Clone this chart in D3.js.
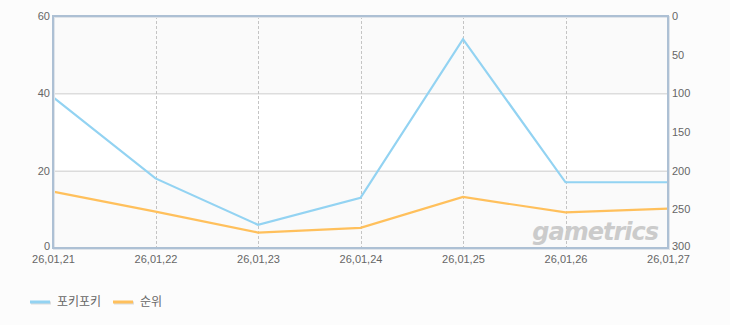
<!DOCTYPE html>
<html><head><meta charset="utf-8">
<script src="https://cdn.jsdelivr.net/npm/d3@7"></script>
<style>
html,body{margin:0;padding:0;background:#fcfcfc;}
svg{display:block;}
</style></head>
<body>
<svg id="c" width="730" height="325"></svg>
<script>
const categories = ["26,01,21","26,01,22","26,01,23","26,01,24","26,01,25","26,01,26","26,01,27"];
const seriesNames = ["포키포키","순위"];
const pokiValues = [39, 18, 6, 13, 54, 17, 17];
const rankValues = [227, 253, 280, 274, 234, 254, 249];
const leftTicks = [0, 20, 40, 60];
const rightTicks = [0, 50, 100, 150, 200, 250, 300];
const colors = ["#93d3f2", "#ffc05c"];

const svg = d3.select("#c");
const L = 53, R = 668, T = 16, B = 248;
const x = d3.scalePoint().domain(categories).range([L, R]);
const yL = d3.scaleLinear().domain([0, 60]).range([B, T]);
const yR = d3.scaleLinear().domain([0, 300]).range([T, B]);
const font = "'Liberation Sans', Arial, sans-serif";

// background bands
svg.append("rect").attr("x", L).attr("y", T).attr("width", R - L).attr("height", B - T).attr("fill", "#fafafa");
svg.append("rect").attr("x", L).attr("y", yL(40)).attr("width", R - L).attr("height", yL(20) - yL(40)).attr("fill", "#ffffff");

// horizontal grid
svg.append("g").selectAll("line").data([20, 40]).join("line")
  .attr("x1", L).attr("x2", R).attr("y1", d => yL(d) + 0.5).attr("y2", d => yL(d) + 0.5)
  .attr("stroke", "#cccccc").attr("stroke-width", 1);
// vertical dashed grid
svg.append("g").selectAll("line").data(categories.slice(1, -1)).join("line")
  .attr("x1", d => Math.round(x(d)) + 0.5).attr("x2", d => Math.round(x(d)) + 0.5)
  .attr("y1", T).attr("y2", B)
  .attr("stroke", "#c4c4c4").attr("stroke-dasharray", "3,2").attr("stroke-width", 1);

// watermark
svg.append("text").attr("x", 658).attr("y", 240).attr("text-anchor", "end")
  .attr("font-family", "'DejaVu Sans', sans-serif").attr("font-size", 24).attr("font-weight", "bold")
  .attr("font-style", "italic").attr("fill", "#cbcbcb").attr("letter-spacing", -1).text("gametrics");

// lines
const linePoki = d3.line().x((d, i) => x(categories[i])).y(d => yL(d));
const lineRank = d3.line().x((d, i) => x(categories[i])).y(d => yR(d));
svg.append("path").datum(rankValues).attr("d", lineRank).attr("fill", "none")
  .attr("stroke", colors[1]).attr("stroke-width", 2.2);
svg.append("path").datum(pokiValues).attr("d", linePoki).attr("fill", "none")
  .attr("stroke", colors[0]).attr("stroke-width", 2.2);

// frame shadow + border
svg.append("rect").attr("x", L + 1).attr("y", T + 1).attr("width", R - L).attr("height", B - T)
  .attr("fill", "none").attr("stroke", "#dfe4ea").attr("stroke-width", 2);
svg.append("rect").attr("x", L).attr("y", T).attr("width", R - L).attr("height", B - T)
  .attr("fill", "none").attr("stroke", "#adc0d4").attr("stroke-width", 2);

// axes
const axL = d3.axisLeft(yL).tickValues(leftTicks).tickSize(0).tickPadding(2);
const gL = svg.append("g").attr("transform", `translate(${L - 1},0)`).call(axL);
const axR = d3.axisRight(yR).tickValues(rightTicks).tickSize(0).tickPadding(3);
const gR = svg.append("g").attr("transform", `translate(${R + 1},0)`).call(axR);
const axB = d3.axisBottom(x).tickSize(0).tickPadding(6);
const gB = svg.append("g").attr("transform", `translate(0,${B + 1})`).call(axB);
[gL, gR, gB].forEach(g => {
  g.select(".domain").remove();
  g.selectAll("text").attr("font-family", font).attr("font-size", 11).attr("fill", "#666");
});
gL.selectAll(".tick text").filter(d => d === 0).attr("dy", "0.1em");
gR.selectAll(".tick text").filter(d => d === 300).attr("dy", "0.1em");

// legend
const leg = svg.append("g");
const legX = [30, 113];
seriesNames.forEach((n, i) => {
  leg.append("line").attr("x1", legX[i] + 1).attr("x2", legX[i] + 21).attr("y1", 303).attr("y2", 303)
    .attr("stroke", "#dddddd").attr("stroke-width", 3);
  leg.append("line").attr("x1", legX[i]).attr("x2", legX[i] + 20).attr("y1", 302).attr("y2", 302)
    .attr("stroke", colors[i]).attr("stroke-width", 3);
  leg.append("text").attr("x", legX[i] + 27).attr("y", 306).attr("font-family", "'Noto Sans CJK KR', sans-serif")
    .attr("font-size", 12).attr("fill", "#666").text(n);
});
</script>
</body></html>
